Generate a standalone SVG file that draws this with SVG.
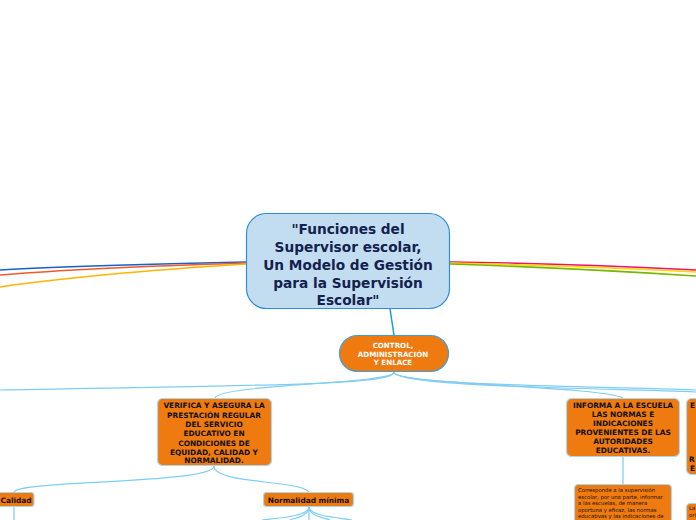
<svg xmlns="http://www.w3.org/2000/svg" width="696" height="520" viewBox="0 0 696 520">
<style>
.lnk{fill:none;stroke:#7fcdf2;stroke-width:1.2}
.org{fill:#ef7a10;stroke:#a8d8f0;stroke-width:1.2}
.t{font-family:"DejaVu Sans",Verdana,sans-serif;font-weight:bold;text-anchor:middle;fill:#111}
.tw{font-family:"DejaVu Sans",Verdana,sans-serif;font-weight:bold;text-anchor:middle;fill:#fff;font-size:7.1px}
.d{font-family:"DejaVu Sans",Verdana,sans-serif;fill:#111;font-size:5.3px}
</style>
<rect width="696" height="520" fill="#fff"/>
<g id="connectors">
<path d="M246,262 C150,264 60,266 0,270" fill="none" stroke="#1a5fd0" stroke-width="1.6"/>
<path d="M246,263 C150,266 60,270 0,275" fill="none" stroke="#f05a28" stroke-width="1.6"/>
<path d="M246,264 C150,270 60,278 0,287" fill="none" stroke="#ffb400" stroke-width="1.6"/>
<path d="M450,262 C540,263 620,266 696,270" fill="none" stroke="#f0106a" stroke-width="1.6"/>
<path d="M450,263 C540,265 620,268 696,272" fill="none" stroke="#f5d800" stroke-width="1.6"/>
<path d="M450,264 C540,267 620,271 696,276" fill="none" stroke="#78b800" stroke-width="1.6"/>
<path d="M390,309 L394,335" fill="none" stroke="#1a9ae0" stroke-width="1.5"/>
<path class="lnk" d="M394,372 C394,384 300,385 0,390"/>
<path class="lnk" d="M394,372 C394,384 220,384 215,398"/>
<path class="lnk" d="M394,372 C394,385 600,386 623,398"/>
<path class="lnk" d="M394,372 C394,386 600,386 696,390"/>
<path class="lnk" d="M394,372 C394,387 600,388 696,392"/>
<path class="lnk" d="M214,466 C214,484 20,480 14,492"/>
<path class="lnk" d="M214,466 C214,484 300,480 309,492"/>
<path class="lnk" d="M14,507 L14,520"/>
<path class="lnk" d="M309,507 C309,516 280,518 262,520"/>
<path class="lnk" d="M309,507 C309,516 295,518 290,520"/>
<path class="lnk" d="M309,507 L309,520"/>
<path class="lnk" d="M309,507 C309,516 325,518 330,520"/>
<path class="lnk" d="M309,507 C309,516 340,518 352,520"/>
<path class="lnk" d="M623,457 L623,484"/>
</g>
<g id="central">
<rect x="246.5" y="213.5" width="203" height="95" rx="20" fill="#c3ddf0" stroke="#2a8fd8" stroke-width="1.2"/>
<text class="t" style="font-size:13.7px;fill:#13214f"><tspan x="348" y="234">"Funciones del</tspan><tspan x="348" y="252">Supervisor escolar,</tspan><tspan x="348" y="270">Un Modelo de Gestión</tspan><tspan x="348" y="288">para la Supervisión</tspan><tspan x="348" y="305">Escolar"</tspan></text>
</g>
<g id="control">
<rect x="339.5" y="335.5" width="109" height="36" rx="18" fill="#ef7a10" stroke="#3aa0e0" stroke-width="1.2"/>
<text class="tw"><tspan x="393" y="348">CONTROL,</tspan><tspan x="393" y="356.5">ADMINISTRACIÓN</tspan><tspan x="393" y="365">Y ENLACE</tspan></text>
</g>
<g id="verifica">
<rect class="org" x="157.5" y="398.5" width="114" height="67" rx="5"/>
<text class="t" style="font-size:7.4px"><tspan x="214" y="408">VERIFICA Y ASEGURA LA</tspan><tspan x="214" y="417.5">PRESTACIÓN REGULAR</tspan><tspan x="214" y="427">DEL SERVICIO</tspan><tspan x="214" y="436">EDUCATIVO EN</tspan><tspan x="214" y="445.5">CONDICIONES DE</tspan><tspan x="214" y="454.5">EQUIDAD, CALIDAD Y</tspan><tspan x="214" y="463">NORMALIDAD.</tspan></text>
</g>
<g id="informa">
<rect class="org" x="566.5" y="398.5" width="113" height="58" rx="5"/>
<text class="t" style="font-size:7.4px"><tspan x="623" y="408">INFORMA A LA ESCUELA</tspan><tspan x="623" y="417">LAS NORMAS E</tspan><tspan x="623" y="426">INDICACIONES</tspan><tspan x="623" y="435">PROVENIENTES DE LAS</tspan><tspan x="623" y="444">AUTORIDADES</tspan><tspan x="623" y="453">EDUCATIVAS.</tspan></text>
</g>
<g id="right-node">
<rect class="org" x="686.5" y="398.5" width="40" height="76" rx="5"/>
<text class="t" style="font-size:7.4px;text-anchor:start"><tspan x="690" y="408">E</tspan><tspan x="689" y="462">R</tspan><tspan x="690" y="471">E</tspan></text>
</g>
<g id="calidad">
<rect class="org" x="-10" y="492.5" width="44" height="14" rx="3"/>
<text class="t" style="font-size:7.4px" x="16" y="502.5">Calidad</text>
</g>
<g id="normalidad">
<rect class="org" x="263.5" y="492.5" width="90" height="14" rx="3"/>
<text class="t" style="font-size:7.4px" x="308.5" y="502.5">Normalidad mínima</text>
</g>
<g id="informa-desc">
<rect class="org" x="574.5" y="484.5" width="97" height="45" rx="4"/>
<text class="d"><tspan x="578" y="492">Corresponde a la supervisión</tspan><tspan x="578" y="498.5">escolar, por una parte, informar</tspan><tspan x="578" y="505">a las escuelas, de manera</tspan><tspan x="578" y="511.5">oportuna y eficaz, las normas</tspan><tspan x="578" y="518">educativas y las indicaciones de</tspan></text>
</g>
<g id="right-desc">
<rect class="org" x="686.5" y="503.5" width="40" height="30" rx="4"/>
<text class="d"><tspan x="689" y="510">La</tspan><tspan x="689" y="516.5">ori</tspan></text>
</g>
</svg>
